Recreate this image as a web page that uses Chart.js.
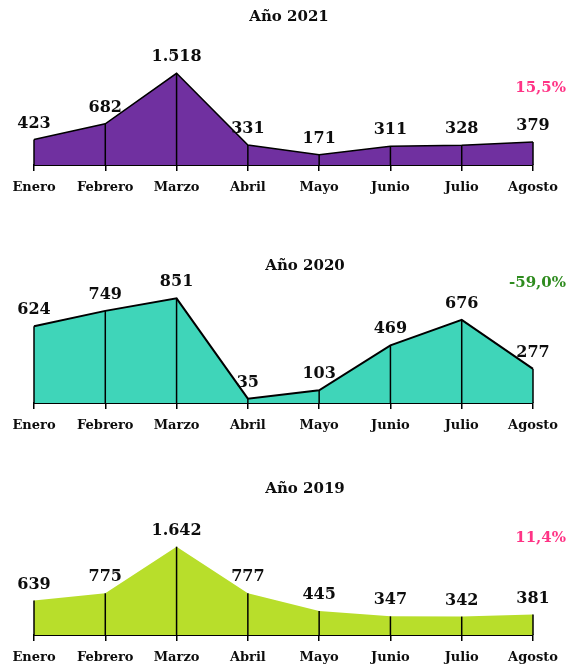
<!DOCTYPE html>
<html>
<head>
<meta charset="utf-8">
<script src="https://cdn.jsdelivr.net/npm/chart.js@4/dist/chart.umd.min.js"></script>
<style>
  html, body { margin: 0; padding: 0; background: #fff; overflow: hidden; }
  body { width: 572px; height: 664px; position: relative; }
  canvas { position: absolute; left: 0; }
</style>
</head>
<body>
<canvas id="c2021" width="572" height="194" style="top:0px"></canvas>
<canvas id="c2020" width="572" height="200" style="top:232px"></canvas>
<canvas id="c2019" width="572" height="200" style="top:464px"></canvas>
<script>
// datos
const meses = ['Enero', 'Febrero', 'Marzo', 'Abril', 'Mayo', 'Junio', 'Julio', 'Agosto'];
const ventas2021 = [423, 682, 1518, 331, 171, 311, 328, 379];
const ventas2020 = [624, 749, 851, 35, 103, 469, 676, 277];
const ventas2019 = [639, 775, 1642, 777, 445, 347, 342, 381];
const titulos = ['Año 2021', 'Año 2020', 'Año 2019'];
const variaciones = ['15,5%', '-59,0%', '11,4%'];

const FUENTE = '"DejaVu Serif", serif';

// 1518 -> "1.518"
const fmt = (v) => String(v).replace(/\B(?=(\d{3})+(?!\d))/g, '.');

// lineas verticales, etiquetas, titulo y porcentaje
const marcas = {
    id: 'marcas',
    afterDatasetsDraw(chart, args, opts) {
        const { ctx } = chart;
        const meta = chart.getDatasetMeta(0);
        const valores = chart.data.datasets[0].data;
        const base = chart.scales.y.getPixelForValue(0);
        ctx.save();
        ctx.strokeStyle = '#000';
        ctx.lineWidth = 1.5;
        meta.data.forEach((p) => {
            ctx.beginPath();
            ctx.moveTo(p.x, base);
            ctx.lineTo(p.x, p.y);
            ctx.stroke();
        });

        ctx.fillStyle = '#0d0d0d';
        ctx.font = `bold 16px ${FUENTE}`;
        ctx.textAlign = 'center';
        ctx.textBaseline = 'middle';
        meta.data.forEach((p, i) => ctx.fillText(fmt(valores[i]), p.x, p.y - 16));

        ctx.font = `bold 15px ${FUENTE}`;
        ctx.fillText(opts.titulo, opts.tituloX, opts.tituloY);

        ctx.fillStyle = opts.color;
        ctx.textAlign = 'right';
        ctx.fillText(opts.texto, 566, opts.textoY);
        ctx.restore();
    }
};

const crearGrafico = (id, valores, relleno, borde, yMax, extra) => {
    const ctx = document.getElementById(id).getContext('2d');
    return new Chart(ctx, {
        type: 'line',
        data: {
            labels: meses,
            datasets: [{
                data: valores,
                fill: 'origin',
                backgroundColor: relleno,
                borderColor: '#000',
                borderWidth: borde,
                pointRadius: 0,
                tension: 0
            }]
        },
        options: {
            responsive: false,
            animation: false,
            layout: { padding: { top: 40, left: 34, right: 39, bottom: 0 } },
            plugins: {
                legend: { display: false },
                tooltip: { enabled: false },
                marcas: extra
            },
            scales: {
                x: {
                    offset: false,
                    border: { display: true, color: '#000', width: 2 },
                    grid: { drawOnChartArea: false, drawTicks: true, tickLength: 6, color: '#000', lineWidth: 1.5 },
                    ticks: { color: '#0d0d0d', padding: 9, maxRotation: 0, font: { family: FUENTE, size: 13, weight: 'bold' } },
                    afterFit: (scale) => { scale.height = 29; }
                },
                y: { display: false, min: 0, max: yMax }
            }
        },
        plugins: [marcas]
    });
};

crearGrafico('c2021', ventas2021, '#7030a0', 1.5, 2070,
    { titulo: titulos[0], tituloX: 289, tituloY: 17, texto: variaciones[0], textoY: 88, color: '#ff3385' });
crearGrafico('c2020', ventas2020, '#3fd5b9', 2, 1065,
    { titulo: titulos[1], tituloX: 305, tituloY: 34, texto: variaciones[1], textoY: 51, color: '#2e8b1e' });
crearGrafico('c2019', ventas2019, '#b8de2b', 0, 2435,
    { titulo: titulos[2], tituloX: 305, tituloY: 25, texto: variaciones[2], textoY: 74, color: '#ff3385' });
</script>
</body>
</html>
